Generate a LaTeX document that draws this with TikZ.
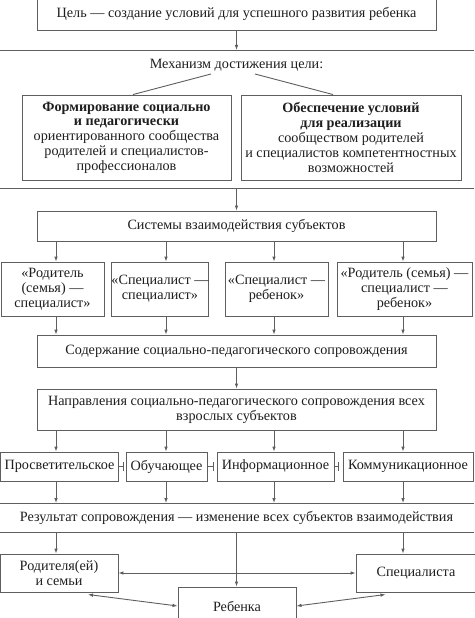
\documentclass[tikz,border=0pt]{standalone}
\usepackage{fontspec}
\setmainfont{Liberation Serif}
\usetikzlibrary{arrows.meta,calc}
\definecolor{lc}{HTML}{5E5E5E}
\definecolor{tc}{HTML}{1E1E1E}
\newcommand\dfont{\fontsize{14.2}{14.8}\selectfont}
\begin{document}
\begin{tikzpicture}[x=1pt,y=-1pt,
  box/.style={draw=lc, line width=0.9pt, inner sep=0pt, align=center, text=tc, font=\dfont},
  lbl/.style={inner sep=0pt, align=center, text=tc, font=\dfont},
  ar/.style={draw=lc, line width=0.9pt, -{Latex[length=5pt,width=3.6pt]}},
  dar/.style={draw=lc, line width=0.9pt, {Latex[length=5pt,width=3.6pt]}-{Latex[length=5pt,width=3.6pt]}},
  ln/.style={draw=lc, line width=0.9pt}]
\useasboundingbox (0,0) rectangle (474,618);
% column coordinates
\coordinate (c1) at (56,0);
\coordinate (c2) at (166,0);
\coordinate (c3) at (274,0);
\coordinate (c4) at (403,0);
\coordinate (cm) at (236.5,0);
% goal
\node[box, minimum width=399pt, minimum height=33pt] (goal) at (236.5,13.5) {Цель — создание условий для успешного развития ребенка};
\coordinate (l1) at (236.5,50);
\draw[ln] (0,50) -- (474,50);
\draw[ar] (goal) -- (l1);
\node[lbl] (mech) at (236.5,65) {Механизм достижения цели:};
\coordinate (m1) at (211,74);
\coordinate (m2) at (255,74);
\node[box, minimum width=209pt, minimum height=85pt] (fl) at (126.5,137.5)
  {\textbf{Формирование социально}\\ \textbf{и педагогически}\\ ориентированного сообщества\\ родителей и специалистов-\\ профессионалов};
\node[box, minimum width=220pt, minimum height=85pt] (fr) at (351,137.5)
  {\textbf{Обеспечение условий}\\ \textbf{для реализации}\\ сообществом родителей\\ и специалистов компетентностных\\ возможностей};
\draw[ln] (m1) -- (fl.north -| 133,0);
\draw[ln] (m2) -- (fr.north -| 333,0);
\draw[ln] (0,188) -- (474,188);
\coordinate (l2) at (236.5,188);
\node[box, minimum width=399pt, minimum height=30pt] (sys) at (236.5,226) {Системы взаимодействия субъектов};
\draw[ar] (l2) -- (sys.north);
% row 1
\node[box, minimum width=103pt, minimum height=54pt] (r1) at (52.5,289) {«Родитель\\ (семья) —\\ специалист»};
\node[box, minimum width=96pt, minimum height=54pt] (r2) at (160,289) {«Специалист —\\ специалист»};
\node[box, minimum width=103pt, minimum height=54pt] (r3) at (276.5,289) {«Специалист —\\ ребенок»};
\node[box, minimum width=135pt, minimum height=54pt] (r4) at (404.5,289) {«Родитель (семья) —\\ специалист —\\ ребенок»};
\foreach \r/\c in {r1/c1,r2/c2,r3/c3,r4/c4}{
  \draw[ar] (sys.south -| \c) -- (\r.north -| \c);
}
\node[box, minimum width=399pt, minimum height=32pt] (cont) at (236.5,351) {Содержание социально-педагогического сопровождения};
\foreach \r/\c in {r1/c1,r2/c2,r3/c3,r4/c4}{
  \draw[ar] (\r.south -| \c) -- (cont.north -| \c);
}
\node[box, minimum width=399pt, minimum height=41pt] (dir) at (236.5,409.5) {Направления социально-педагогического сопровождения всех\\ взрослых субъектов};
\draw[ar] (cont) -- (dir);
% row 2
\node[box, minimum width=118pt, minimum height=29pt] (p1) at (59.5,466.5) {Просветительское};
\node[box, minimum width=81pt, minimum height=29pt] (p2) at (166.5,466.5) {Обучающее};
\node[box, minimum width=117pt, minimum height=29pt] (p3) at (275.5,466.5) {Информационное};
\node[box, minimum width=130pt, minimum height=29pt] (p4) at (408,466.5) {Коммуникационное};
\foreach \r/\c in {p1/c1,p2/c2,p3/c3,p4/c4}{
  \draw[ar] (dir.south -| \c) -- (\r.north -| \c);
}
\coordinate (t1) at (123.5,466.5);
\coordinate (t2) at (213,466.5);
\coordinate (t3) at (338.5,466.5);
\draw[ln] (p1.east) -- (t1);
\draw[ln] (p2.east) -- (t2);
\draw[ln] (p3.east) -- (t3);
\foreach \t in {t1,t2,t3}{
  \draw[ln] ($(\t)+(0,-4.5)$) -- ($(\t)+(0,4.5)$);
}
% result band
\coordinate (bt) at (0,503);
\coordinate (bb) at (0,532);
\draw[ln] (0,503) -- (474,503);
\draw[ln] (0,532) -- (474,532);
\node[lbl] (res) at (236.5,518) {Результат сопровождения — изменение всех субъектов взаимодействия};
\foreach \r/\c in {p1/c1,p2/c2,p3/c3,p4/c4}{
  \draw[ar] (\r.south -| \c) -- (bt -| \c);
}
\node[box, minimum width=118pt, minimum height=38pt] (par) at (59,573) {Родителя(ей)\\ и семьи};
\node[box, minimum width=120pt, minimum height=38pt] (spec) at (416,573) {Специалиста};
\node[box, minimum width=118pt, minimum height=38pt] (child) at (237,606) {Ребенка};
\draw[ar] (bb -| c1) -- (par.north -| c1);
\draw[ar] (bb -| c4) -- (spec.north -| c4);
\draw[ar] (bb -| cm) -- (child.north -| cm);
\draw[dar] (par.east) -- (spec.west);
\coordinate (d1) at (88,594.5);
\coordinate (d2) at (385.5,594.5);
\draw[dar] (d1) -- (child.west);
\draw[dar] (child.east) -- (d2);
\end{tikzpicture}
\end{document}
